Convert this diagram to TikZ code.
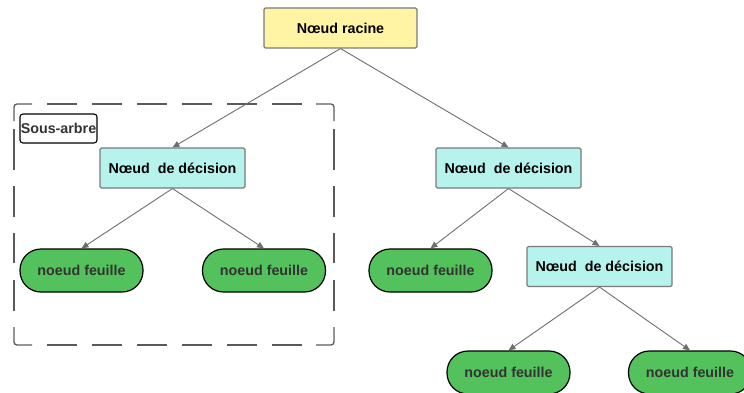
\documentclass[tikz,border=0pt]{standalone}
\usepackage{fontspec}
\setmainfont{Liberation Sans}
\usetikzlibrary{arrows.meta}
\definecolor{rootfill}{HTML}{FFF4A3}
\definecolor{decfill}{HTML}{B6F3EC}
\definecolor{leaffill}{HTML}{54C25C}
\definecolor{edgegray}{HTML}{6E6E6E}
\definecolor{boxgray}{HTML}{7A7A7A}
\definecolor{framegray}{HTML}{5A5A5A}
\tikzset{
  base/.style={inner sep=0pt, font=\fontsize{14.3}{17}\selectfont\bfseries, align=center},
  rootbox/.style={base, draw=boxgray, line width=1.1pt, fill=rootfill, rounded corners=1.5pt,
    minimum width=153pt, minimum height=40pt},
  decbox/.style={base, draw=boxgray, line width=1.1pt, fill=decfill, rounded corners=1.5pt,
    minimum width=145pt, minimum height=40pt},
  leafbox/.style={base, draw=black, line width=1.2pt, fill=leaffill, rounded corners=21pt,
    minimum width=123pt, minimum height=43pt, text=black!80},
  tagbox/.style={base, draw=black, line width=1.1pt, fill=white, rounded corners=3pt,
    minimum width=77pt, minimum height=29pt, text=black!80},
  link/.style={draw=edgegray, line width=0.9pt,
    -{Triangle[length=7pt, width=6pt, fill=edgegray]}},
  frame/.style={draw=framegray, line width=1.3pt, rounded corners=3pt},
  framedashh/.style={draw=framegray, line width=1.3pt, dash pattern=on 30pt off 15pt, dash phase=30pt},
  framedashv/.style={draw=framegray, line width=1.3pt,
    dash pattern=on 41pt off 16pt on 31pt off 16pt on 30pt off 17pt on 31pt off 60pt},
}
\begin{document}
\begin{tikzpicture}[x=1pt, y=-1pt]
\useasboundingbox (0,0) rectangle (744,392);

% subtree frame: solid corner pieces joined by dashed sides
\draw[frame] (14,121) -- (14,104) -- (32,104);
\draw[frame] (316,104) -- (334,104) -- (334,121);
\draw[frame] (334,327) -- (334,345) -- (316,345);
\draw[frame] (32,345) -- (14,345) -- (14,327);
\draw[framedashh] (32,104) -- (316,104);
\draw[framedashh] (32,345) -- (316,345);
\draw[framedashv] (14,129) -- (14,311);
\draw[framedashv] (334,129) -- (334,311);
\node[tagbox] (tag) at (58.5,128.5) {Sous-arbre};

% nodes
\node[rootbox] (root) at (340.5,28) {N\oe ud racine};
\node[decbox] (dl) at (172.5,168) {N\oe ud\ \ de décision};
\node[decbox] (dr) at (508.5,168) {N\oe ud\ \ de décision};
\node[decbox] (drr) at (599.5,266.5) {N\oe ud\ \ de décision};

\node[leafbox] (l1) at (81.5,270.5) {noeud feuille};
\node[leafbox] (l2) at (264,270.5) {noeud feuille};
\node[leafbox] (l3) at (430.5,270.5) {noeud feuille};
\node[leafbox] (l4) at (508.5,372.5) {noeud feuille};
\node[leafbox] (l5) at (690,372.5) {noeud feuille};

% connectors
\draw[link] (root.south) -- (dl.north);
\draw[link] (root.south) -- (dr.north);
\draw[link] (dl.south) -- (l1.north);
\draw[link] (dl.south) -- (l2.north);
\draw[link] (dr.south) -- (l3.north);
\draw[link] (dr.south) -- (drr.north);
\draw[link] (drr.south) -- (l4.north);
\draw[link] (drr.south) -- (l5.north);
\end{tikzpicture}
\end{document}
